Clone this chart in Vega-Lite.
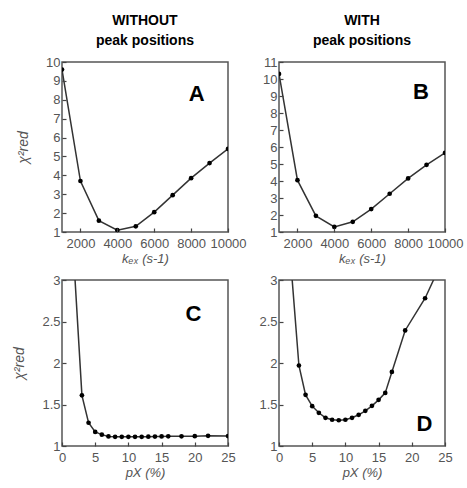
{
  "$schema": "https://vega.github.io/schema/vega-lite/v6.json",
  "padding": {"left": 12, "top": 13, "right": 5, "bottom": 2},
  "background": "white",
  "datasets": {
    "A": [
      {"x": 1000, "y": 9.6}, {"x": 2000, "y": 3.7}, {"x": 3000, "y": 1.6}, {"x": 4000, "y": 1.1}, {"x": 5000, "y": 1.3},
      {"x": 6000, "y": 2.05}, {"x": 7000, "y": 2.95}, {"x": 8000, "y": 3.85}, {"x": 9000, "y": 4.65}, {"x": 10000, "y": 5.4}
    ],
    "B": [
      {"x": 1000, "y": 10.3}, {"x": 2000, "y": 4.05}, {"x": 3000, "y": 1.95}, {"x": 4000, "y": 1.3}, {"x": 5000, "y": 1.6},
      {"x": 6000, "y": 2.35}, {"x": 7000, "y": 3.25}, {"x": 8000, "y": 4.15}, {"x": 9000, "y": 4.95}, {"x": 10000, "y": 5.65}
    ],
    "C": [
      {"x": 1, "y": 4.3}, {"x": 3, "y": 1.61}, {"x": 4, "y": 1.28}, {"x": 5, "y": 1.17}, {"x": 6, "y": 1.137},
      {"x": 7, "y": 1.115}, {"x": 8, "y": 1.11}, {"x": 9, "y": 1.11}, {"x": 10, "y": 1.11}, {"x": 11, "y": 1.11},
      {"x": 12, "y": 1.11}, {"x": 13, "y": 1.112}, {"x": 14, "y": 1.113}, {"x": 15, "y": 1.115}, {"x": 16, "y": 1.116},
      {"x": 18, "y": 1.117}, {"x": 20, "y": 1.118}, {"x": 22, "y": 1.122}, {"x": 25, "y": 1.12}
    ],
    "D": [
      {"x": 1, "y": 4.0}, {"x": 3, "y": 1.97}, {"x": 4, "y": 1.616}, {"x": 5, "y": 1.48}, {"x": 6, "y": 1.4},
      {"x": 7, "y": 1.34}, {"x": 8, "y": 1.316}, {"x": 9, "y": 1.31}, {"x": 10, "y": 1.316}, {"x": 11, "y": 1.34},
      {"x": 12, "y": 1.376}, {"x": 13, "y": 1.424}, {"x": 14, "y": 1.484}, {"x": 15, "y": 1.556}, {"x": 16, "y": 1.64},
      {"x": 17, "y": 1.892}, {"x": 19, "y": 2.392}, {"x": 22, "y": 2.78}, {"x": 25, "y": 3.3}
    ],
    "labels": [
      {"panel": "A", "x": 8300, "y": 8.3, "label": "A"},
      {"panel": "B", "x": 8700, "y": 9.25, "label": "B"},
      {"panel": "C", "x": 19.8, "y": 2.59, "label": "C"},
      {"panel": "D", "x": 21.9, "y": 1.26, "label": "D"}
    ]
  },
  "columns": 2,
  "bounds": "flush",
  "spacing": {"row": 48, "column": 51},
  "concat": [
    {
      "width": 166, "height": 170,
      "title": {"text": ["WITHOUT", "peak positions"]},
      "layer": [
        {"data": {"name": "A"}, "mark": {"type": "line", "clip": true, "color": "#333", "strokeWidth": 1.5},
         "encoding": {
           "x": {"field": "x", "type": "quantitative", "scale": {"domain": [1000, 10000], "nice": false},
                 "axis": {"values": [2000, 4000, 6000, 8000, 10000], "tickCount": 30, "format": "d", "labelOverlap": false, "zindex": 1, "title": "kₑₓ (s-1)"}},
           "y": {"field": "y", "type": "quantitative", "scale": {"domain": [1, 10], "nice": false, "zero": false},
                 "axis": {"values": [1,2,3,4,5,6,7,8,9,10], "tickCount": 30, "format": "d", "labelOverlap": false, "zindex": 1, "title": "χ²red"}}
         }},
        {"data": {"name": "A"}, "mark": {"type": "point", "clip": true, "filled": true, "color": "#000", "size": 22, "opacity": 1},
         "encoding": {"x": {"field": "x", "type": "quantitative"}, "y": {"field": "y", "type": "quantitative"}}},
        {"data": {"name": "labels"}, "transform": [{"filter": "datum.panel == 'A'"}],
         "mark": {"type": "text", "fontSize": 22, "fontWeight": "bold", "font": "Liberation Sans", "color": "#000"},
         "encoding": {"x": {"field": "x", "type": "quantitative"}, "y": {"field": "y", "type": "quantitative"}, "text": {"field": "label"}}}
      ]
    },
    {
      "width": 166, "height": 170,
      "title": {"text": ["WITH", "peak positions"]},
      "layer": [
        {"data": {"name": "B"}, "mark": {"type": "line", "clip": true, "color": "#333", "strokeWidth": 1.5},
         "encoding": {
           "x": {"field": "x", "type": "quantitative", "scale": {"domain": [1000, 10000], "nice": false},
                 "axis": {"values": [2000, 4000, 6000, 8000, 10000], "tickCount": 30, "format": "d", "labelOverlap": false, "zindex": 1, "title": "kₑₓ (s-1)"}},
           "y": {"field": "y", "type": "quantitative", "scale": {"domain": [1, 11], "nice": false, "zero": false},
                 "axis": {"values": [1,2,3,4,5,6,7,8,9,10,11], "tickCount": 30, "format": "d", "labelOverlap": false, "zindex": 1, "title": null}}
         }},
        {"data": {"name": "B"}, "mark": {"type": "point", "clip": true, "filled": true, "color": "#000", "size": 22, "opacity": 1},
         "encoding": {"x": {"field": "x", "type": "quantitative"}, "y": {"field": "y", "type": "quantitative"}}},
        {"data": {"name": "labels"}, "transform": [{"filter": "datum.panel == 'B'"}],
         "mark": {"type": "text", "fontSize": 22, "fontWeight": "bold", "font": "Liberation Sans", "color": "#000"},
         "encoding": {"x": {"field": "x", "type": "quantitative"}, "y": {"field": "y", "type": "quantitative"}, "text": {"field": "label"}}}
      ]
    },
    {
      "width": 166, "height": 166,
      "layer": [
        {"data": {"name": "C"}, "mark": {"type": "line", "clip": true, "color": "#333", "strokeWidth": 1.5},
         "encoding": {
           "x": {"field": "x", "type": "quantitative", "scale": {"domain": [0, 25], "nice": false},
                 "axis": {"values": [0, 5, 10, 15, 20, 25], "tickCount": 30, "format": "d", "labelOverlap": false, "zindex": 1, "title": "pX (%)"}},
           "y": {"field": "y", "type": "quantitative", "scale": {"domain": [1, 3], "nice": false, "zero": false},
                 "axis": {"values": [1, 1.5, 2, 2.5, 3], "tickCount": 30, "format": "~g", "labelOverlap": false, "zindex": 1, "title": "χ²red"}}
         }},
        {"data": {"name": "C"}, "mark": {"type": "point", "clip": true, "filled": true, "color": "#000", "size": 22, "opacity": 1},
         "encoding": {"x": {"field": "x", "type": "quantitative"}, "y": {"field": "y", "type": "quantitative"}}},
        {"data": {"name": "labels"}, "transform": [{"filter": "datum.panel == 'C'"}],
         "mark": {"type": "text", "fontSize": 22, "fontWeight": "bold", "font": "Liberation Sans", "color": "#000"},
         "encoding": {"x": {"field": "x", "type": "quantitative"}, "y": {"field": "y", "type": "quantitative"}, "text": {"field": "label"}}}
      ]
    },
    {
      "width": 166, "height": 166,
      "layer": [
        {"data": {"name": "D"}, "mark": {"type": "line", "clip": true, "color": "#333", "strokeWidth": 1.5},
         "encoding": {
           "x": {"field": "x", "type": "quantitative", "scale": {"domain": [0, 25], "nice": false},
                 "axis": {"values": [0, 5, 10, 15, 20, 25], "tickCount": 30, "format": "d", "labelOverlap": false, "zindex": 1, "title": "pX (%)"}},
           "y": {"field": "y", "type": "quantitative", "scale": {"domain": [1, 3], "nice": false, "zero": false},
                 "axis": {"values": [1, 1.5, 2, 2.5, 3], "tickCount": 30, "format": "~g", "labelOverlap": false, "zindex": 1, "title": null}}
         }},
        {"data": {"name": "D"}, "mark": {"type": "point", "clip": true, "filled": true, "color": "#000", "size": 22, "opacity": 1},
         "encoding": {"x": {"field": "x", "type": "quantitative"}, "y": {"field": "y", "type": "quantitative"}}},
        {"data": {"name": "labels"}, "transform": [{"filter": "datum.panel == 'D'"}],
         "mark": {"type": "text", "fontSize": 22, "fontWeight": "bold", "font": "Liberation Sans", "color": "#000"},
         "encoding": {"x": {"field": "x", "type": "quantitative"}, "y": {"field": "y", "type": "quantitative"}, "text": {"field": "label"}}}
      ]
    }
  ],
  "config": {
    "view": {"stroke": "#555", "strokeWidth": 1.5},
    "title": {"font": "Liberation Sans", "fontSize": 14, "fontWeight": "bold", "color": "#000", "anchor": "middle", "offset": 8, "lineHeight": 20},
    "axis": {
      "grid": false, "domain": false, "labelFlush": false,
      "tickSize": -4, "tickColor": "#444", "tickWidth": 1.2,
      "labelFont": "Liberation Sans", "labelFontSize": 13, "labelColor": "#555", "labelPadding": 9,
      "titleFont": "Liberation Sans", "titleFontSize": 14, "titleFontWeight": "normal", "titleFontStyle": "italic", "titleColor": "#555"
    },
    "axisX": {"titlePadding": 2, "labelPadding": 9, "titleFontSize": 13},
    "axisY": {"titlePadding": 15, "labelPadding": 6}
  }
}
